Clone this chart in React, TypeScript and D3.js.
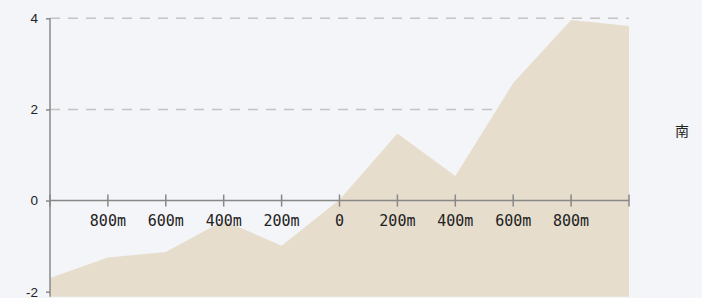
import React, { useEffect, useRef } from 'react';
import * as d3 from 'd3';

// Data
const distances = ['1000m', '800m', '600m', '400m', '200m', '0', '200m', '400m', '600m', '800m', '1000m'];
const tickLabels = ['', '800m', '600m', '400m', '200m', '0', '200m', '400m', '600m', '800m', ''];
const elevation = [-1.7, -1.25, -1.13, -0.44, -0.99, 0.02, 1.47, 0.54, 2.58, 3.96, 3.83];
const yTicks = [-2, 0, 2, 4];
const gridTicks = [2, 4];
const sideLabel = '南';

const App = () => {
    const svgRef = useRef<SVGSVGElement>(null);

    useEffect(() => {
        const width = 702;
        const height = 298;
        const margin = { top: 18.3, right: 73, bottom: 6, left: 50 };

        const svg = d3.select(svgRef.current)
            .attr('width', width)
            .attr('height', height);

        svg.selectAll('*').remove();

        svg.append('rect')
            .attr('width', width)
            .attr('height', height)
            .attr('fill', '#f4f5f8');

        // Scales
        const x = d3.scalePoint<number>()
            .domain(distances.map((_, i) => i))
            .range([margin.left, width - margin.right]);

        const y = d3.scaleLinear()
            .domain([-2, 4])
            .range([291.7, margin.top]);

        const base = -2.11;

        // Grid
        svg.append('g')
            .selectAll('line')
            .data(gridTicks)
            .join('line')
            .attr('x1', margin.left)
            .attr('x2', width - margin.right)
            .attr('y1', d => y(d))
            .attr('y2', d => y(d))
            .attr('stroke', '#c4c4c4')
            .attr('stroke-width', 1.5)
            .attr('stroke-dasharray', '10 8');

        // Area
        const area = d3.area<number>()
            .x((_, i) => x(i) as number)
            .y0(y(base))
            .y1(d => y(d));

        svg.append('path')
            .datum(elevation)
            .attr('d', area)
            .attr('fill', '#e6ddcc');

        // Y axis
        const yAxis = svg.append('g')
            .attr('transform', `translate(${margin.left},0)`)
            .call(d3.axisLeft(y).tickValues(yTicks).tickSize(4).tickPadding(8).tickFormat(d => `${d}`));
        yAxis.select('.domain').remove();
        yAxis.append('line')
            .attr('y1', y(4))
            .attr('y2', y(base))
            .attr('stroke', '#888')
            .attr('stroke-width', 1.5);
        yAxis.selectAll('.tick line').attr('stroke', '#888').attr('stroke-width', 1.5);
        yAxis.selectAll('.tick text')
            .attr('fill', '#222')
            .style('font-family', '"Liberation Sans", Arial, sans-serif')
            .style('font-size', '13.5px');

        // X axis on zero line
        const xAxis = svg.append('g')
            .attr('transform', `translate(0,${y(0)})`);
        xAxis.append('line')
            .attr('x1', margin.left)
            .attr('x2', width - margin.right)
            .attr('stroke', '#888')
            .attr('stroke-width', 1.5);
        xAxis.selectAll('line.tick')
            .data(distances.map((_, i) => i))
            .join('line')
            .attr('class', 'tick')
            .attr('x1', d => x(d) as number)
            .attr('x2', d => x(d) as number)
            .attr('y1', -6)
            .attr('y2', 6)
            .attr('stroke', '#888')
            .attr('stroke-width', 1.5);
        xAxis.selectAll('text')
            .data(tickLabels)
            .join('text')
            .attr('x', (_, i) => x(i) as number)
            .attr('y', 25)
            .attr('text-anchor', 'middle')
            .attr('fill', '#222')
            .style('font-family', '"DejaVu Sans Mono", monospace')
            .style('font-size', '15px')
            .text(d => d);

        // Side label
        svg.append('text')
            .attr('x', 682)
            .attr('y', 136)
            .attr('text-anchor', 'middle')
            .attr('fill', '#222')
            .style('font-family', '"Noto Sans CJK SC", sans-serif')
            .style('font-size', '14px')
            .text(sideLabel);
    }, []);

    return (
        <div style={{ position: 'absolute', left: 0, top: 0 }}>
            <svg ref={svgRef} style={{ display: 'block' }}></svg>
        </div>
    );
};

export default App;
